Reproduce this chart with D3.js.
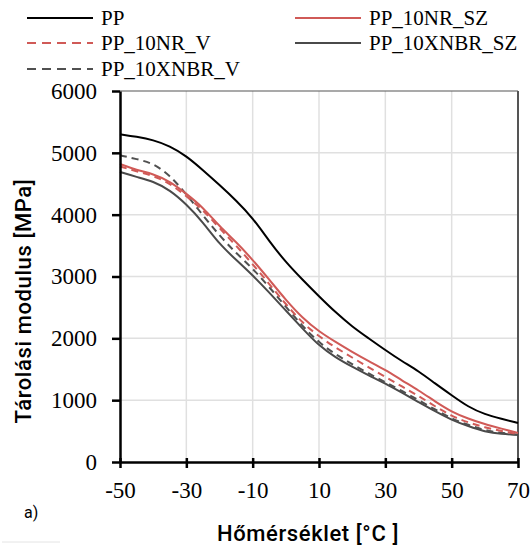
<!DOCTYPE html>
<html>
<head>
<meta charset="utf-8">
<script src="https://cdn.jsdelivr.net/npm/d3@7"></script>
<style>
  body { margin: 0; background: #fff; }
  svg { display: block; }
</style>
</head>
<body>
<div id="wrapper"></div>
<script>
// temperatures (°C) at which the curves were read
const temps = [-50, -45, -40, -35, -30, -25, -20, -15, -10, -5, 0, 5, 10, 15, 20, 25, 30, 35, 40, 45, 50, 55, 60, 65, 70]

// storage modulus [MPa]
const pp         = [5300, 5260, 5210, 5110, 4950, 4720, 4480, 4230, 3950, 3570, 3230, 2950, 2680, 2420, 2190, 2000, 1810, 1630, 1470, 1270, 1080, 890, 770, 700, 630]
const nrSz       = [4820, 4720, 4660, 4540, 4340, 4120, 3810, 3560, 3270, 2950, 2620, 2330, 2110, 1940, 1780, 1630, 1490, 1320, 1160, 980, 810, 700, 610, 540, 470]
const nrV        = [4780, 4700, 4630, 4510, 4300, 4080, 3780, 3500, 3200, 2880, 2550, 2250, 2030, 1850, 1690, 1530, 1380, 1220, 1070, 900, 740, 640, 560, 500, 450]
const xnbrSz     = [4690, 4610, 4540, 4400, 4170, 3880, 3520, 3270, 3020, 2740, 2450, 2160, 1880, 1690, 1540, 1400, 1270, 1120, 970, 820, 680, 580, 490, 450, 440]
const xnbrV      = [4960, 4900, 4830, 4640, 4330, 3990, 3660, 3380, 3130, 2830, 2510, 2200, 1930, 1740, 1580, 1430, 1290, 1150, 1000, 850, 700, 600, 510, 470, 440]

const xTicks = [-50, -30, -10, 10, 30, 50, 70]
const yTicks = [0, 1000, 2000, 3000, 4000, 5000, 6000]

const seriesNames = ['PP', 'PP_10NR_SZ', 'PP_10NR_V', 'PP_10XNBR_SZ', 'PP_10XNBR_V']
const seriesData = [pp, nrSz, nrV, xnbrSz, xnbrV]

const styles = {
    'PP':           { color: '#000000', dash: null },
    'PP_10NR_SZ':   { color: '#d05a57', dash: null },
    'PP_10NR_V':    { color: '#d05a57', dash: '7,5' },
    'PP_10XNBR_SZ': { color: '#4a4a4a', dash: null },
    'PP_10XNBR_V':  { color: '#505050', dash: '7,5' }
}

const serif = '"Liberation Serif", "Times New Roman", serif'
const sans = 'Roboto, "Noto Sans", sans-serif'

const svg = d3.select('#wrapper')
    .append('svg')
        .attr('width', 532)
        .attr('height', 548)

const plotLeft = 120, plotRight = 518, plotTop = 91, plotBottom = 462

const xScale = d3.scaleLinear().domain([-50, 70]).range([plotLeft, plotRight])
const yScale = d3.scaleLinear().domain([0, 6000]).range([plotBottom, plotTop])

// grid
const grid = svg.append('g')
grid.selectAll('.vg')
    .data(xTicks.slice(1, -1))
    .join('line')
        .attr('x1', d => xScale(d)).attr('x2', d => xScale(d))
        .attr('y1', plotTop).attr('y2', plotBottom)
        .attr('stroke', '#e0e0e0').attr('stroke-width', 1.5)
grid.selectAll('.hg')
    .data(yTicks.slice(1, -1))
    .join('line')
        .attr('x1', plotLeft).attr('x2', plotRight)
        .attr('y1', d => yScale(d)).attr('y2', d => yScale(d))
        .attr('stroke', '#e0e0e0').attr('stroke-width', 1.5)

// frame top / right
svg.append('line')
    .attr('x1', plotLeft).attr('x2', plotRight).attr('y1', plotTop).attr('y2', plotTop)
    .attr('stroke', '#555').attr('stroke-width', 1.2)
svg.append('line')
    .attr('x1', plotRight).attr('x2', plotRight).attr('y1', plotTop).attr('y2', plotBottom)
    .attr('stroke', '#555').attr('stroke-width', 2)

// lines
const line = d3.line()
    .x((d, i) => xScale(temps[i]))
    .y(d => yScale(d))
    .curve(d3.curveBasis)

const drawOrder = ['PP_10XNBR_SZ', 'PP_10XNBR_V', 'PP_10NR_V', 'PP_10NR_SZ', 'PP']
drawOrder.forEach(name => {
    const vals = seriesData[seriesNames.indexOf(name)]
    svg.append('path')
        .attr('d', line(vals))
        .attr('fill', 'none')
        .attr('stroke', styles[name].color)
        .attr('stroke-width', 2)
        .attr('stroke-dasharray', styles[name].dash)
})

// axes
const xAxis = svg.append('g')
    .attr('transform', `translate(0,${plotBottom})`)
    .call(d3.axisBottom(xScale).tickValues(xTicks).tickFormat(d => String(d))
        .tickSize(6).tickSizeOuter(0).tickPadding(14))
const yAxis = svg.append('g')
    .attr('transform', `translate(${plotLeft},0)`)
    .call(d3.axisLeft(yScale).tickValues(yTicks).tickFormat(d => String(d))
        .tickSize(8).tickSizeOuter(0).tickPadding(15))

xAxis.attr('font-family', serif).attr('font-size', 23)
yAxis.attr('font-family', serif).attr('font-size', 23)
xAxis.select('.domain').attr('stroke', '#000').attr('stroke-width', 2.5)
yAxis.select('.domain').attr('stroke', '#000').attr('stroke-width', 2.5)
xAxis.selectAll('.tick line').attr('stroke', '#000').attr('stroke-width', 2.5).attr('y1', -4)
yAxis.selectAll('.tick line').attr('stroke', '#000').attr('stroke-width', 2.5)
xAxis.selectAll('.tick text').attr('fill', '#000')
yAxis.selectAll('.tick text').attr('fill', '#000')

// axis titles
svg.append('text')
    .attr('transform', 'translate(23,301) rotate(-90)')
    .attr('text-anchor', 'middle')
    .attr('dominant-baseline', 'central')
    .attr('font-family', sans)
    .attr('font-weight', 500)
    .attr('font-size', 22)
    .attr('letter-spacing', 0.6)
    .text('Tárolási modulus [MPa]')

svg.append('text')
    .attr('x', 308).attr('y', 541)
    .attr('text-anchor', 'middle')
    .attr('font-family', sans)
    .attr('font-weight', 500)
    .attr('font-size', 22)
    .attr('letter-spacing', 0.6)
    .text('Hőmérséklet [°C ]')

svg.append('text')
    .attr('x', 24).attr('y', 518)
    .attr('font-family', sans)
    .attr('font-size', 16)
    .text('a)')

svg.append('line')
    .attr('x1', 2).attr('x2', 60).attr('y1', 542).attr('y2', 542)
    .attr('stroke', '#e4e4e4').attr('stroke-width', 1)

// legend
const legendPos = {
    'PP':           { x: 27,  y: 18 },
    'PP_10NR_SZ':   { x: 295, y: 18 },
    'PP_10NR_V':    { x: 27,  y: 43 },
    'PP_10XNBR_SZ': { x: 295, y: 43 },
    'PP_10XNBR_V':  { x: 27,  y: 69 }
}
const legend = svg.append('g')
seriesNames.forEach(name => {
    const p = legendPos[name]
    legend.append('line')
        .attr('x1', p.x).attr('x2', p.x + 66)
        .attr('y1', p.y).attr('y2', p.y)
        .attr('stroke', styles[name].color)
        .attr('stroke-width', 2)
        .attr('stroke-dasharray', styles[name].dash ? '9,6' : null)
    legend.append('text')
        .attr('x', p.x + 74).attr('y', p.y + 7)
        .attr('font-family', serif)
        .attr('font-size', 21)
        .text(name)
})
</script>
</body>
</html>
